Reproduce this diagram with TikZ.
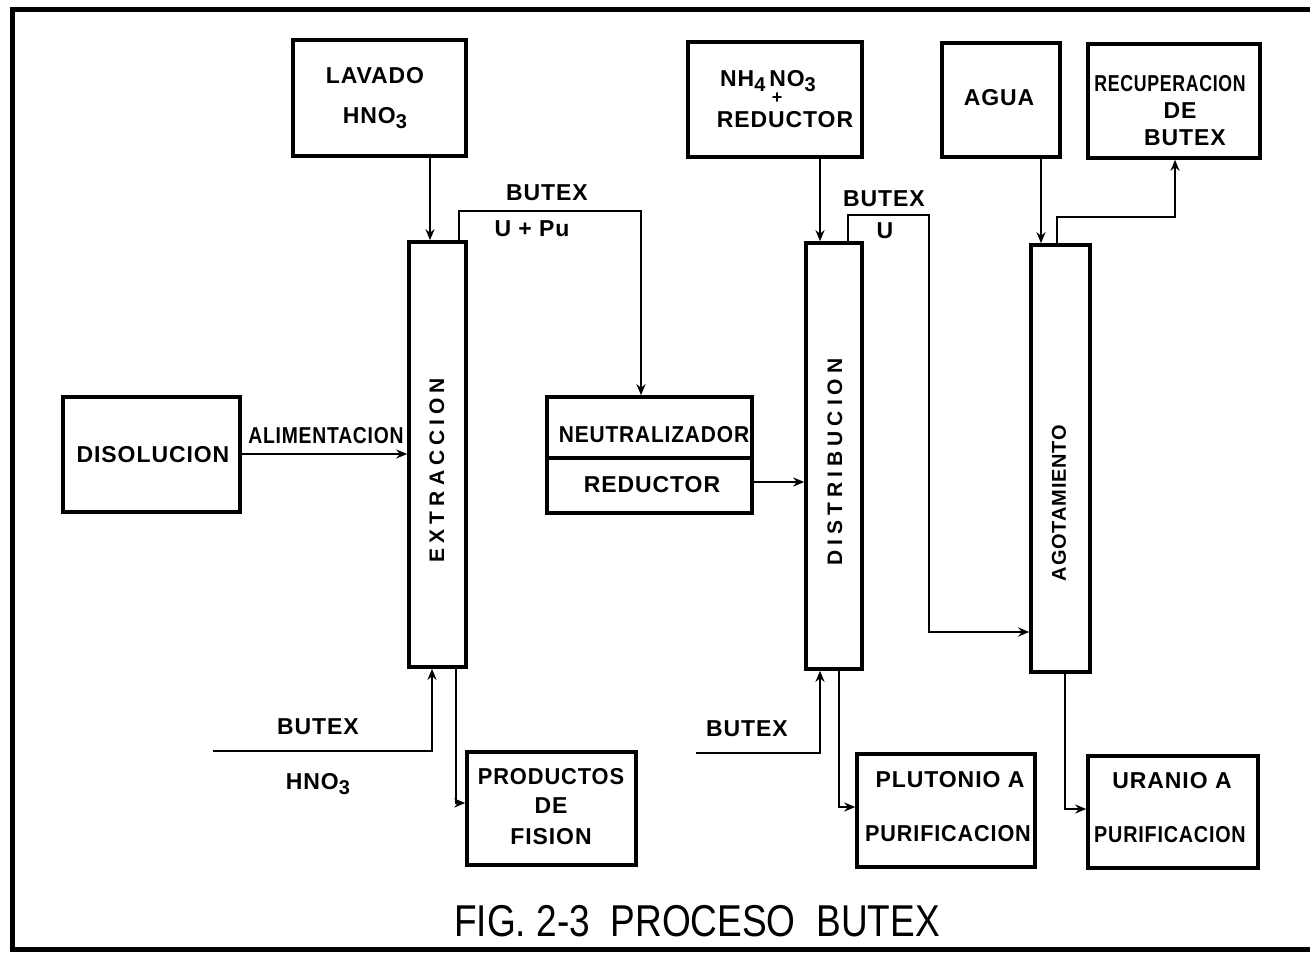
\documentclass[tikz,border=0pt]{standalone}
\usepackage{fontspec}
\setmainfont{Liberation Sans}
\usepackage{graphicx}
\usetikzlibrary{arrows.meta,fit}
\newfontfamily\labfont{Liberation Sans}[LetterSpace=4]
\newfontfamily\colfont{Liberation Sans}[LetterSpace=24]
\newcommand{\mysub}[1]{\raisebox{-0.45ex}{\fontsize{10}{11}\selectfont #1}}
\tikzset{
  box/.style={draw, line width=1.8pt, inner sep=0pt},
  flow/.style={line width=1.3pt},
  arr/.style={flow, -{Stealth[length=5.5pt,width=4.5pt]}},
  lab/.style={font={\labfont\bfseries\fontsize{11.5}{13}\selectfont}, inner sep=0pt},
  coltext/.style={font={\colfont\bfseries\fontsize{10.5}{12}\selectfont}, inner sep=0pt, rotate=90},
  title/.style={font={\fontsize{22.3}{26}\selectfont}, inner sep=0pt},
}
\begin{document}
\begin{tikzpicture}[x=0.5pt,y=-0.5pt]
\useasboundingbox (0,0) rectangle (1310,952);
\fill[white] (0,0) rectangle (1310,952);
\draw[line width=2.5pt] (1312,10) -- (12,10) -- (12,949) -- (1312,949);

% boxes
\node[box, fit={(293,40)(466,156)}] (lav) {};
\node[box, fit={(409,242)(466,667)}] (ext) {};
\node[box, fit={(63,397)(240,512)}] (dis) {};
\node[box, fit={(547,397)(752,458)}] (neu) {};
\node[box, fit={(547,458)(752,513)}] (red) {};
\node[box, fit={(688,42)(862,157)}] (nh) {};
\node[box, fit={(806,243)(862,669)}] (dst) {};
\node[box, fit={(942,43)(1060,157)}] (agua) {};
\node[box, fit={(1088,44)(1260,158)}] (rec) {};
\node[box, fit={(1031,245)(1090,672)}] (ago) {};
\node[box, fit={(467,752)(636,865)}] (prod) {};
\node[box, fit={(857,754)(1035,867)}] (plu) {};
\node[box, fit={(1088,756)(1258,868)}] (ura) {};

% box texts
\node[lab] (t1) at (375,76) {LAVADO};
\node[lab] (t2) at (375,118) {HNO\mysub{3}};
\node[lab] (t3) at (153,455) {DISOLUCION};
\node[lab] (t4) at (654,435) {\scalebox{0.91}[1]{NEUTRALIZADOR}};
\node[lab] (t5) at (652,485) {REDUCTOR};
\node[lab] (t6) at (768,81) {NH\mysub{4}\,NO\mysub{3}};
\node[lab, font={\bfseries\fontsize{9}{10}\selectfont}] (t7) at (777,98) {+};
\node[lab] (t8) at (785,120) {REDUCTOR};
\node[lab] (t9) at (999,98) {AGUA};
\node[lab] (t10) at (1170,84) {\scalebox{0.77}[1]{RECUPERACION}};
\node[lab] (t11) at (1180,111) {DE};
\node[lab] (t12) at (1185,138) {BUTEX};
\node[lab] (t13) at (551,777) {\scalebox{0.95}[1]{PRODUCTOS}};
\node[lab] (t14) at (551,806) {DE};
\node[lab] (t15) at (551,837) {FISION};
\node[lab] (t16) at (950,780) {PLUTONIO A};
\node[lab] (t17) at (948,834) {\scalebox{0.94}[1]{PURIFICACION}};
\node[lab] (t18) at (1172,781) {URANIO A};
\node[lab] (t19) at (1170,835) {\scalebox{0.86}[1]{PURIFICACION}};

% column texts
\node[coltext] (c1) at (437,470) {EXTRACCION};
\node[coltext] (c2) at (835,462) {DISTRIBUCION};
\node[coltext, font={\labfont\bfseries\fontsize{10}{12}\selectfont}] (c3) at (1059,503) {AGOTAMIENTO};

% coordinates
\coordinate (xA) at (430,0);
\coordinate (tA) at (459,211);
\coordinate (xC) at (641,0);
\coordinate (yAl) at (0,454);
\coordinate (yNr) at (0,482);
\coordinate (xF) at (820,0);
\coordinate (tG) at (848,215);
\coordinate (tH) at (929,215);
\coordinate (tH2) at (929,632);
\coordinate (xI) at (1041,0);
\coordinate (tJ) at (1057,217);
\coordinate (xK) at (1175,0);
\coordinate (in1) at (213,751);
\coordinate (xD) at (432,0);
\coordinate (xE) at (456,0);
\coordinate (yP) at (0,803);
\coordinate (in2) at (696,753);
\coordinate (xL) at (839,0);
\coordinate (yPl) at (0,807);
\coordinate (xM) at (1065,0);
\coordinate (yU) at (0,809);

% connectors
\draw[arr] (lav.south -| xA) -- (ext.north -| xA);
\draw[arr] (ext.north -| tA) -- (tA) -| (neu.north -| xC);
\draw[arr] (dis.east |- yAl) -- (ext.west |- yAl);
\draw[arr] (red.east |- yNr) -- (dst.west |- yNr);
\draw[arr] (nh.south -| xF) -- (dst.north -| xF);
\draw[arr] (dst.north -| tG) -- (tG) -- (tH) -- (tH2) -- (ago.west |- tH2);
\draw[arr] (agua.south -| xI) -- (ago.north -| xI);
\draw[arr] (ago.north -| tJ) -- (tJ) -| (rec.south -| xK);
\draw[arr] (in1) -| (ext.south -| xD);
\draw[arr] (ext.south -| xE) |- (prod.west |- yP);
\draw[arr] (in2) -| (dst.south -| xF);
\draw[arr] (dst.south -| xL) |- (plu.west |- yPl);
\draw[arr] (ago.south -| xM) |- (ura.west |- yU);

% flow labels
\node[lab] (l1) at (326,436) {\scalebox{0.84}[1]{ALIMENTACION}};
\node[lab] (l2) at (547,193) {BUTEX};
\node[lab] (l3) at (532,229) {U + Pu};
\node[lab] (l4) at (884,199) {BUTEX};
\node[lab] (l5) at (885,231) {U};
\node[lab] (l6) at (318,727) {BUTEX};
\node[lab] (l7) at (318,784) {HNO\mysub{3}};
\node[lab] (l8) at (747,729) {BUTEX};

% title
\node[title] (ttl) at (697,921) {\scalebox{0.83}[1]{FIG. 2-3\ \ PROCESO\ \ BUTEX}};
\end{tikzpicture}
\end{document}
